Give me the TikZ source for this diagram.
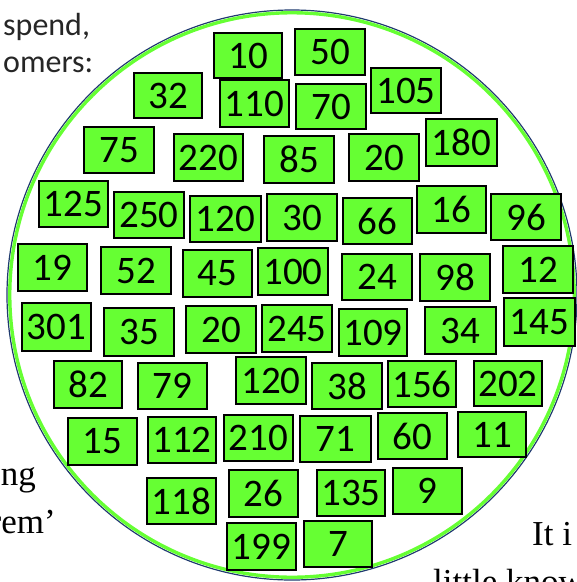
\documentclass[tikz,border=0pt]{standalone}
\usepackage{fontspec}
\newfontfamily\calfont{Carlito}
\newfontfamily\serfont{Liberation Serif}
\definecolor{boxgreen}{HTML}{66FF33}
\definecolor{ringnavy}{HTML}{1F3A6E}
\definecolor{sidegray}{HTML}{262626}
\tikzset{
  numbox/.style={draw=black, line width=1.8pt, fill=boxgreen, inner sep=0pt, outer sep=0pt,
    font=\calfont\fontsize{39}{39}\selectfont},
  sidetext/.style={inner sep=0pt, text=sidegray, font=\calfont\fontsize{32}{32}\selectfont},
  sertext/.style={inner sep=0pt, font=\serfont\fontsize{35}{35}\selectfont}
}
% name, x1, y1, x2, y2, text
\newcommand\nbox[6]{%
  \node[numbox, minimum width={(#4-(#2)-2)*1pt}, minimum height={(#5-(#3)-2)*1pt}]
    (#1) at ({(#2+#4)/2},{(#3+#5)/2}) {#6};}
\begin{document}
\begin{tikzpicture}[x=1pt,y=-1pt]
\useasboundingbox (0,0) rectangle (577,582);
\clip (0,0) rectangle (577,582);
% surrounding texts
\node[sidetext, anchor=base west] (t1) at (3,35) {spend,};
\node[sidetext, anchor=base west] (t2) at (3,72) {omers:};
\node[sertext, anchor=base east] (t3) at (36,485) {ng};
\node[sertext, anchor=base east] (t4) at (56,533) {rem’};
\node[sertext, anchor=base west] (t5) at (532,545) {It i};
\node[sertext, anchor=base west] (t6) at (433,593) {little know};
% ring
\node[circle, draw=ringnavy, line width=1.2pt, minimum size=570pt, inner sep=0pt] (ringout) at (292,295) {};
\node[circle, draw=boxgreen, line width=3.4pt, minimum size=564.5pt, inner sep=0pt] (ringin) at (292,295) {};
% boxes
\nbox{b10}{213}{32}{283}{79}{10}
\nbox{b50}{294}{28}{366}{76}{50}
\nbox{b32}{133}{72}{203}{119}{32}
\nbox{b110}{219}{79}{290}{128}{110}
\nbox{b70}{295}{83}{367}{130}{70}
\nbox{b105}{370}{67}{442}{114}{105}
\nbox{b75}{83}{126}{155}{174}{75}
\nbox{b220}{173}{133}{244}{182}{220}
\nbox{b85}{263}{135}{335}{184}{85}
\nbox{b20a}{348}{133}{420}{182}{20}
\nbox{b180}{425}{118}{498}{167}{180}
\nbox{b125}{38}{180}{109}{228}{125}
\nbox{b250}{113}{191}{185}{239}{250}
\nbox{b120a}{189}{195}{262}{243}{120}
\nbox{b30}{266}{193}{338}{242}{30}
\nbox{b66}{342}{197}{413}{245}{66}
\nbox{b16}{416}{185}{487}{234}{16}
\nbox{b96}{490}{193}{562}{241}{96}
\nbox{b19}{17}{243}{88}{292}{19}
\nbox{b52}{100}{246}{172}{295}{52}
\nbox{b45}{182}{249}{253}{298}{45}
\nbox{b100}{257}{247}{329}{296}{100}
\nbox{b24}{341}{253}{413}{301}{24}
\nbox{b98}{419}{253}{491}{302}{98}
\nbox{b12}{502}{245}{574}{294}{12}
\nbox{b301}{21}{302}{92}{352}{301}
\nbox{b35}{103}{307}{175}{357}{35}
\nbox{b20b}{185}{305}{257}{354}{20}
\nbox{b245}{261}{304}{333}{353}{245}
\nbox{b109}{338}{308}{408}{357}{109}
\nbox{b34}{424}{306}{497}{355}{34}
\nbox{b145}{503}{297}{576}{347}{145}
\nbox{b82}{53}{360}{123}{409}{82}
\nbox{b79}{137}{362}{208}{410}{79}
\nbox{b120b}{235}{356}{307}{405}{120}
\nbox{b38}{311}{362}{383}{410}{38}
\nbox{b156}{387}{360}{457}{408}{156}
\nbox{b202}{473}{360}{543}{407}{202}
\nbox{b15}{67}{417}{138}{466}{15}
\nbox{b112}{147}{416}{217}{464}{112}
\nbox{b210}{223}{414}{294}{462}{210}
\nbox{b71}{299}{415}{372}{463}{71}
\nbox{b60}{377}{412}{448}{460}{60}
\nbox{b11}{457}{411}{527}{458}{11}
\nbox{b118}{146}{477}{217}{525}{118}
\nbox{b26}{228}{469}{299}{518}{26}
\nbox{b135}{316}{469}{386}{517}{135}
\nbox{b9}{392}{467}{463}{515}{9}
\nbox{b199}{226}{522}{297}{571}{199}
\nbox{b7}{303}{520}{373}{568}{7}
\end{tikzpicture}
\end{document}
